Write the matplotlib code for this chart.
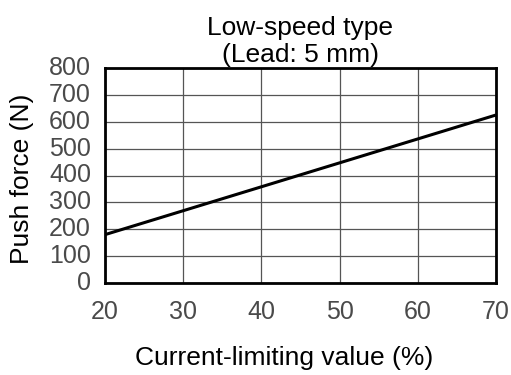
import matplotlib
matplotlib.use("Agg")
import matplotlib.pyplot as plt

# data
current_pct = [20, 70]
push_force = [180, 625]

x_ticks = [20, 30, 40, 50, 60, 70]
y_ticks = [0, 100, 200, 300, 400, 500, 600, 700, 800]

plt.rcParams["font.family"] = ["Liberation Sans", "DejaVu Sans"]

fig = plt.figure(figsize=(5.11, 3.75), dpi=100)
ax = fig.add_axes([0.2055, 0.2453, 0.765, 0.5734])

ax.plot(current_pct, push_force, color="black", linewidth=2.2, solid_capstyle="butt")

ax.set_xlim(20, 70)
ax.set_ylim(0, 800)
ax.set_xticks(x_ticks)
ax.set_yticks(y_ticks)
ax.grid(True, color="#555555", linewidth=0.9)
ax.set_axisbelow(True)

for s in ax.spines.values():
    s.set_linewidth(2.0)
    s.set_color("black")

ax.tick_params(length=0, labelsize=18, labelcolor="#4a4a4a")
ax.tick_params(axis="x", pad=12)
ax.tick_params(axis="y", pad=10)
for lab in ax.get_yticklabels():
    lab.set_verticalalignment("center")

ax.set_title("Low-speed type\n(Lead: 5 mm)", fontsize=19, linespacing=1.2, pad=4)
ax.set_xlabel("Current-limiting value (%)", fontsize=19)
ax.set_ylabel("Push force (N)", fontsize=19)
ax.xaxis.set_label_coords(0.457, -0.349)
ax.yaxis.set_label_coords(-0.212, 0.484)
ax.xaxis.label.set_verticalalignment("center")
ax.yaxis.label.set_verticalalignment("center")

fig.savefig("out.png", dpi=100)
